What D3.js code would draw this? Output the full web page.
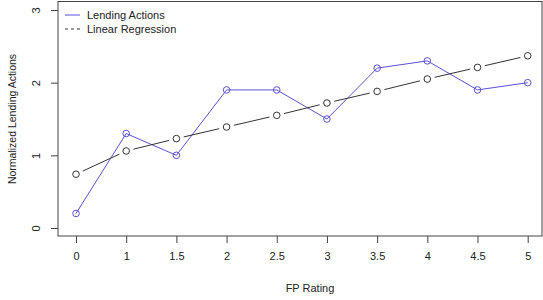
<!DOCTYPE html>
<html><head><meta charset="utf-8">
<script src="https://cdn.jsdelivr.net/npm/d3@7"></script>
<style>body{margin:0;background:#fff}svg{display:block}text{font-family:"Liberation Sans",Arial,sans-serif;fill:#222}</style>
</head><body><svg id="c" width="543" height="300"></svg>
<script>
const categories = ["0","1","1.5","2","2.5","3","3.5","4","4.5","5"];
const lending = [0.2,1.3,1.0,1.9,1.9,1.5,2.2,2.3,1.9,2.0];
const regression = [0.74,1.06,1.23,1.39,1.55,1.72,1.88,2.05,2.21,2.37];
const yTicks = [0,1,2,3];

const svg = d3.select("#c");
const box = {l:58,t:1.5,r:542,b:236};
const x = d3.scalePoint().domain(categories).range([76,527.7]);
const y = d3.scaleLinear().domain([0,3]).range([228,10]);
const blue = "#5b50d6", dark = "#333";

svg.append("rect").attr("x",box.l).attr("y",box.t).attr("width",box.r-box.l).attr("height",box.b-box.t)
  .attr("fill","none").attr("stroke","#444").attr("stroke-width",1);

// y axis
const ya = svg.append("g").attr("transform",`translate(${box.l},0)`)
  .call(d3.axisLeft(y).tickValues(yTicks).tickSize(7).tickFormat(d3.format("d")));
ya.select(".domain").remove();
ya.selectAll("line").attr("stroke","#444");
ya.selectAll("text").attr("font-size",11).attr("fill","#222")
  .attr("text-anchor","middle").attr("x",-22).attr("y",0).attr("dy","0.35em")
  .attr("transform","rotate(-90,-22,0)");

// x axis
const xa = svg.append("g").attr("transform",`translate(0,${box.b})`)
  .call(d3.axisBottom(x).tickSize(7).tickPadding(9));
xa.select(".domain").remove();
xa.selectAll("line").attr("stroke","#444");
xa.selectAll("text").attr("font-size",11).attr("fill","#222");

svg.append("text").attr("x",(box.l+box.r)/2+10).attr("y",292).attr("text-anchor","middle").attr("font-size",11).text("FP Rating");
svg.append("text").attr("transform","translate(16,119) rotate(-90)").attr("text-anchor","middle").attr("font-size",10.5).text("Normalized Lending Actions");

// lending line (type o)
svg.append("path").datum(lending)
  .attr("d",d3.line().x((d,i)=>x(categories[i])).y(d=>y(d)))
  .attr("fill","none").attr("stroke",blue).attr("stroke-width",1);
svg.selectAll(".lp").data(lending).enter().append("circle")
  .attr("cx",(d,i)=>x(categories[i])).attr("cy",d=>y(d)).attr("r",3.3)
  .attr("fill","none").attr("stroke",blue).attr("stroke-width",1);

// regression (type b: gaps around points)
const gap = 7.5;
for (let i=0;i<regression.length-1;i++){
  const x1=x(categories[i]), y1=y(regression[i]), x2=x(categories[i+1]), y2=y(regression[i+1]);
  const len=Math.hypot(x2-x1,y2-y1), ux=(x2-x1)/len, uy=(y2-y1)/len;
  svg.append("line").attr("x1",x1+ux*gap).attr("y1",y1+uy*gap).attr("x2",x2-ux*gap).attr("y2",y2-uy*gap)
    .attr("stroke",dark).attr("stroke-width",1);
}
svg.selectAll(".rp").data(regression).enter().append("circle")
  .attr("cx",(d,i)=>x(categories[i])).attr("cy",d=>y(d)).attr("r",3.3)
  .attr("fill","none").attr("stroke",dark).attr("stroke-width",1);

// legend
const lg = svg.append("g");
lg.append("line").attr("x1",65).attr("x2",80).attr("y1",15).attr("y2",15).attr("stroke",blue).attr("stroke-width",1);
lg.append("line").attr("x1",65).attr("x2",80).attr("y1",29).attr("y2",29).attr("stroke",dark).attr("stroke-width",1).attr("stroke-dasharray","3,3");
lg.append("text").attr("x",87).attr("y",15).attr("dy","0.35em").attr("font-size",11).text("Lending Actions");
lg.append("text").attr("x",87).attr("y",29).attr("dy","0.35em").attr("font-size",11).text("Linear Regression");
</script></body></html>
